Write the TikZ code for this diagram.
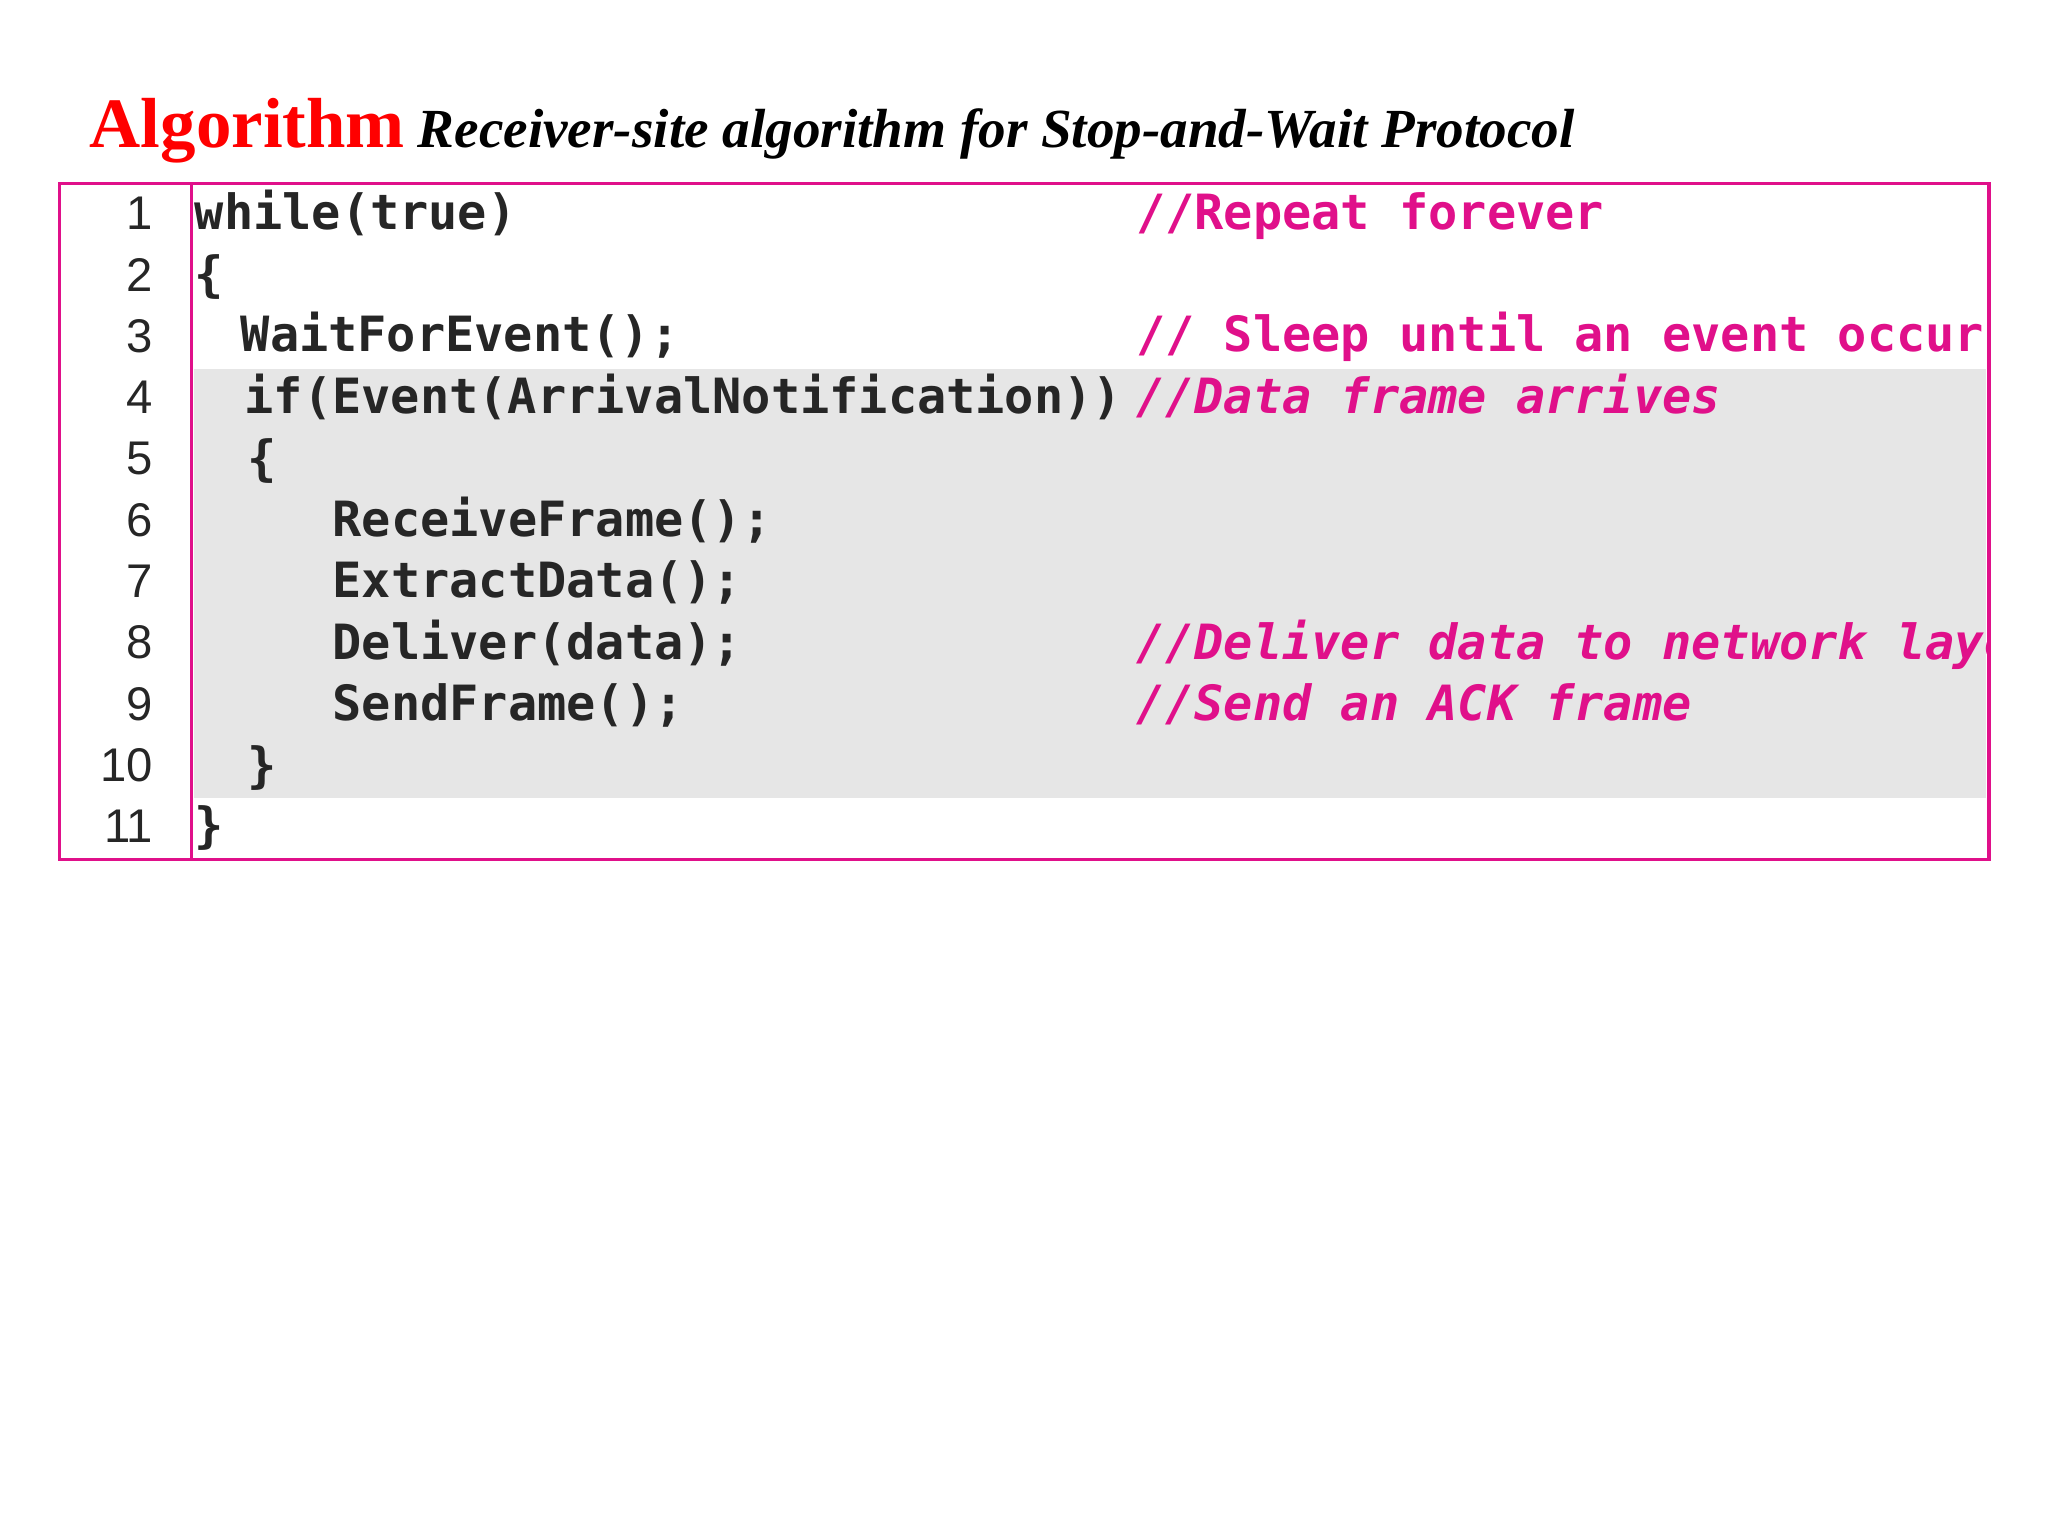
\documentclass[tikz,border=0pt]{standalone}
\usepackage{fontspec}
\setmainfont{Liberation Serif}
\newfontfamily\codef{DejaVu Sans Mono}[FakeStretch=1.0]
\newfontfamily\numf{Liberation Sans}
\definecolor{pinkc}{HTML}{E0108A}
\definecolor{grayband}{HTML}{E6E6E6}
\begin{document}
\begin{tikzpicture}[x=0.5pt,y=-0.5pt,
  code/.style={anchor=base west,inner sep=0,font=\codef\bfseries\fontsize{18.5}{20}\selectfont,text=black!85},
  cmt/.style={anchor=base west,inner sep=0,font=\codef\bfseries\itshape\fontsize{18.5}{20}\selectfont,text=pinkc},
  num/.style={anchor=base east,inner sep=0,font=\numf\fontsize{18}{20}\selectfont,text=black!85}]
\useasboundingbox (0,0) rectangle (1560,1170);
\fill[grayband] (148,281) rectangle (1513,608);
\node[anchor=base west,inner sep=0] (title) at (68,112) {\textcolor{red}{\bfseries\fontsize{27}{30}\selectfont Algorithm}\ \ {\bfseries\itshape\fontsize{21}{24}\selectfont Receiver-site algorithm for Stop-and-Wait Protocol}};
\foreach \i [count=\k] in {1,...,11}{
  \node[num] (n\k) at (117,{163+(\k-1)*46.7+12}) {\i};
}
\begin{scope}
\clip (146,140) rectangle (1515,655);
\node[code] (c1) at (148,175) {while(true)};
\node[code] (c2) at (148,222) {\{};
\node[code] (c3) at (183,268) {WaitForEvent();};
\node[code] (c4) at (186,315) {if(Event(ArrivalNotification))};
\node[code] (c5) at (188,362) {\{};
\node[code] (c6) at (253,409) {ReceiveFrame();};
\node[code] (c7) at (253,455) {ExtractData();};
\node[code] (c8) at (253,502) {Deliver(data);};
\node[code] (c9) at (253,549) {SendFrame();};
\node[code] (c10) at (188,596) {\}};
\node[code] (c11) at (148,642) {\}};
\node[code,text=pinkc] (k1) at (865,175) {//Repeat forever};
\node[code,text=pinkc] (k3) at (865,268) {// Sleep until an event occurs};
\node[cmt] (k4) at (865,315) {//Data frame arrives};
\node[cmt] (k8) at (865,502) {//Deliver data to network layer};
\node[cmt] (k9) at (865,549) {//Send an ACK frame};
\end{scope}
\draw[pinkc,line width=1.2pt] (45,140) rectangle (1515,655);
\draw[pinkc,line width=1.2pt] (146,140) -- (146,655);
\end{tikzpicture}
\end{document}
